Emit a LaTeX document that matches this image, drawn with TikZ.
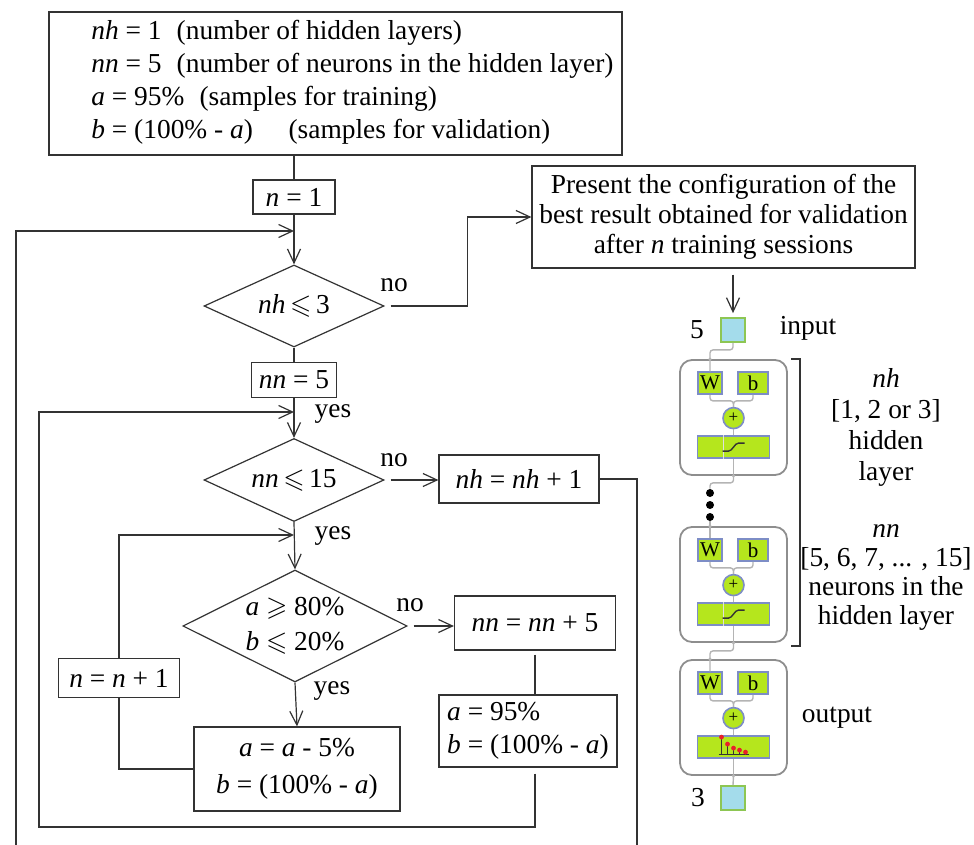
\documentclass[tikz,border=0pt]{standalone}
\usepackage{fontspec}
\setmainfont{Liberation Serif}
\newfontfamily\mainserif{Liberation Serif}
\usepackage{amssymb}
\usepackage{tikz}
\usetikzlibrary{arrows.meta,positioning,calc,shapes.geometric}
\definecolor{ink}{HTML}{333333}
\definecolor{wiregray}{HTML}{B4B4B4}
\definecolor{lime}{HTML}{B5E61D}
\definecolor{slate}{HTML}{7D8DC6}
\definecolor{sky}{HTML}{A4DCEB}
\definecolor{leaf}{HTML}{8DC653}
\definecolor{frame}{HTML}{8E8E8E}
\definecolor{stem}{HTML}{E8202A}
\newcommand\fs[1]{\mainserif\fontsize{13.7}{#1}\selectfont}
\tikzset{
  >={Straight Barb[length=7pt,width=6.5pt]},
  box/.style={draw=ink, fill=white, line width=0.6pt, font=\fs{16.5}, inner sep=1.5pt, align=center},
  decide/.style={diamond, draw=ink, fill=white, line width=0.6pt, aspect=2.2, inner sep=0pt,
    font=\fs{16.5}, align=center},
  arr/.style={->, draw=ink, line width=0.6pt},
  link/.style={draw=ink, line width=0.6pt},
  lbl/.style={font=\fs{16.5}, inner sep=0pt, align=center},
  layerbox/.style={draw=frame, fill=white, rounded corners=6pt, line width=0.9pt,
    minimum width=53.5pt, minimum height=57.5pt, inner sep=0pt},
  wbbox/.style={draw=slate, fill=lime, line width=0.8pt, minimum height=11pt, inner sep=0pt,
    font=\mainserif\fontsize{10.5}{10.5}\selectfont},
  sumnode/.style={circle, draw=slate, fill=lime, line width=0.8pt, minimum size=10.5pt,
    inner sep=0pt, font=\mainserif\fontsize{8.5}{8.5}\selectfont},
  actbox/.style={draw=slate, fill=lime, line width=0.8pt, minimum width=36pt,
    minimum height=11pt, inner sep=0pt},
  iosq/.style={draw=leaf, fill=sky, line width=0.9pt, minimum size=12pt, inner sep=0pt},
  wire/.style={draw=wiregray, line width=0.7pt, rounded corners=1.5pt},
  dotmark/.style={circle, fill=black, minimum size=4pt, inner sep=0pt},
  tap/.style={circle, fill=wiregray, minimum size=1.8pt, inner sep=0pt},
}
% activation glyphs drawn inside an act node
\newcommand\SigGlyph[1]{%
  \draw[white!75!gray, line width=0.5pt] ($(#1.north)+(-10,0)$) -- ($(#1.south)+(-10,0)$);
  \draw[ink, line width=0.7pt] ($(#1.center)+(-11,4)$) -- ++(6,0)
    .. controls +(4,0) and +(-4,0) .. ++(10,-8) -- ++(6,0);}
\newcommand\BarGlyph[1]{%
  \draw[ink, line width=0.6pt] ($(#1.center)+(-15,7)$) -- ++(30,0);
  \foreach \dx/\h in {-12/17, -6/10, 0/6, 6/4, 12/2} {
    \draw[ink, line width=0.6pt] ($(#1.center)+(\dx,7)$) -- ++(0,-\h);
    \fill[stem] ($(#1.center)+(\dx,7-\h)$) circle (1.2pt);
  }}
% one network layer: name, top y, glyph
\newcommand\NetLayer[3]{%
  \node[layerbox] (#1) at (733.5,{#2+57.5}) {};
  \node[wbbox, minimum width=12pt] (#1w) at ($(#1.north)+(-23.5,24)$) {W};
  \node[wbbox, minimum width=15pt] (#1b) at ($(#1.north)+(19.5,24)$) {b};
  \node[sumnode] (#1s) at ($(#1.north)+(0,59)$) {+};
  \node[actbox] (#1a) at ($(#1.north)+(0,88)$) {};
  #3{#1a}
  \draw[wire] (#1w.south) -- ++(0,6) -| (#1s.north);
  \draw[wire] (#1b.south) -- ++(0,6) -| (#1s.north);
  \draw[wire] (#1s.south) -- (#1a.north);
  \draw[wire] (#1a.south) -- (#1.south);
  \node[tap] at (#1.north -| #1w) {};
  \node[tap] at (#1.south) {};}

\begin{document}
\begin{tikzpicture}[x=0.5pt,y=-0.5pt]
  \useasboundingbox (0,0) rectangle (974,845);

  % ---------------- flowchart ----------------
  \node[box, minimum width=286.5pt, minimum height=71.5pt] (init) at (335.5,83.5) {};
  \node[lbl, anchor=west, align=left] (inittxt) at (91,82) {%
    \textit{nh} = 1\hspace{0.55em}(number of hidden layers)\\
    \textit{nn} = 5\hspace{0.55em}(number of neurons in the hidden layer)\\
    \textit{a} = 95\%\hspace{0.55em}(samples for training)\\
    \textit{b} = (100\% - \textit{a})\hspace{1.3em}(samples for validation)};
  \node[box, minimum width=41pt, minimum height=17pt] (n1) at (294,197) {\textit{n} = 1};
  \node[decide, minimum width=90pt, minimum height=41pt] (dia1) at (294,306)
    {\textit{nh}\,$\leqslant$\,3};
  \node[box, minimum width=42.5pt, minimum height=17.5pt] (nn5) at (294,380) {\textit{nn} = 5};
  \node[decide, minimum width=90pt, minimum height=41.5pt] (dia2) at (294,480)
    {\textit{nn}\,$\leqslant$\,15};
  \node[box, minimum width=80pt, minimum height=24pt] (nhinc) at (519,479)
    {\textit{nh} = \textit{nh} + 1};
  \node[decide, minimum width=108pt, minimum height=56pt, font=\fs{17.5}] (dia3) at (295,626)
    {\textit{a} $\geqslant$ 80\%\\\textit{b} $\leqslant$ 20\%};
  \node[box, minimum width=80.5pt, minimum height=27pt] (nninc) at (535,623)
    {\textit{nn} = \textit{nn} + 5};
  \node[box, minimum width=89pt, minimum height=36pt, align=left] (reset) at (528,731)
    {\textit{a} = 95\%\\\textit{b} = (100\% - \textit{a})};
  \node[box, minimum width=103pt, minimum height=42pt, font=\fs{18.5}] (adec) at (297,769)
    {\textit{a} = \textit{a} - 5\%\\\textit{b} = (100\% - \textit{a})};
  \node[box, minimum width=60.5pt, minimum height=19.5pt] (ninc) at (119,678)
    {\textit{n} = \textit{n} + 1};
  \node[box, minimum width=191.5pt, minimum height=51pt, font=\fs{15}] (present) at (723.5,217)
    {Present the configuration of the\\best result obtained for validation\\after \textit{n} training sessions};

  \node[lbl] (no1) at (394,285) {no};
  \node[lbl] (no2) at (394,460) {no};
  \node[lbl] (no3) at (410,605) {no};
  \node[lbl] (yes1) at (333,414) {yes};
  \node[lbl] (yes2) at (333,536) {yes};
  \node[lbl] (yes3) at (332,691) {yes};

  \coordinate (j1) at (294,231);
  \coordinate (j2) at (294,412);
  \coordinate (j3) at (294,535);
  \coordinate (leftfoot) at (16,845);
  \coordinate (rightfoot) at (637,845);
  \coordinate (loopfoot) at (39,827);

  \draw[link] (init.south -| n1.north) -- (n1.north);
  \draw[arr] (n1.south) -- (dia1.north);
  \draw[arr] (leftfoot) |- (j1);
  \draw[arr, shorten <=3pt] (dia1.east) -- ++(83,0) |- (present.west);
  \draw[link] (dia1.south) -- (nn5.north);
  \draw[arr] (nn5.south) -- (dia2.north);
  \draw[arr, shorten <=3pt] (dia2.east) -- (dia2.east -| nhinc.west);
  \draw[link] (nhinc.east) -| (rightfoot);
  \draw[arr] (dia2.south) -- (dia3.north);
  \draw[arr] (ninc.north) |- (j3);
  \draw[arr, shorten <=3pt] (dia3.east) -- (dia3.east -| nninc.west);
  \draw[link, shorten <=2pt] (nninc.south) -- (nninc.south |- reset.north);
  \draw[arr] (dia3.south) -- (adec.north);
  \draw[link] (adec.west) -| (ninc.south);
  \draw[arr, shorten <=3pt] (reset.south -| nninc.south) |- (loopfoot) |- (j2);

  % ---------------- network ----------------
  \node[iosq] (insq) at (733,330) {};
  \node[lbl] (inn) at (697,330) {5};
  \node[lbl] (inlbl) at (808,328) {input};
  \draw[arr, shorten <=3pt, shorten >=2pt] (present.south -| insq.north) -- (insq.north);

  \NetLayer{lay1}{360}{\SigGlyph}
  \NetLayer{lay2}{527}{\SigGlyph}
  \NetLayer{layo}{660}{\BarGlyph}

  \foreach \y [count=\i] in {493,505,517}
    \node[dotmark] (dot\i) at (710,\y) {};

  \node[iosq] (outsq) at (733,798) {};
  \node[lbl] (outn) at (698,798) {3};
  \node[lbl] (outlbl) at (837,718) {output};

  \draw[wire] (insq.south) -- ++(0,7) -| (lay1w.north);
  \draw[wire] (lay1.south) -- ++(0,7) -| (dot1.north);
  \draw[wire] (dot3.south) -- (lay2w.north);
  \draw[wire] (lay2.south) -- ++(0,8) -| (layow.north);
  \draw[wire] (layo.south) -- (outsq.north);

  \coordinate (brtop) at (791,359);
  \coordinate (brbot) at (791,646);
  \draw[link] (brtop) -- ++(9,0) |- (brbot);

  \node[lbl, font=\fs{15.5}] (nhlbl) at (886,427) {\textit{nh}\\{}[1, 2 or 3]\\hidden\\layer};
  \node[lbl, font=\fs{14.5}] (nnlbl) at (886,577)
    {\textit{nn}\\{}[5, 6, 7, ... , 15]\\neurons in the\\hidden layer};
\end{tikzpicture}
\end{document}
